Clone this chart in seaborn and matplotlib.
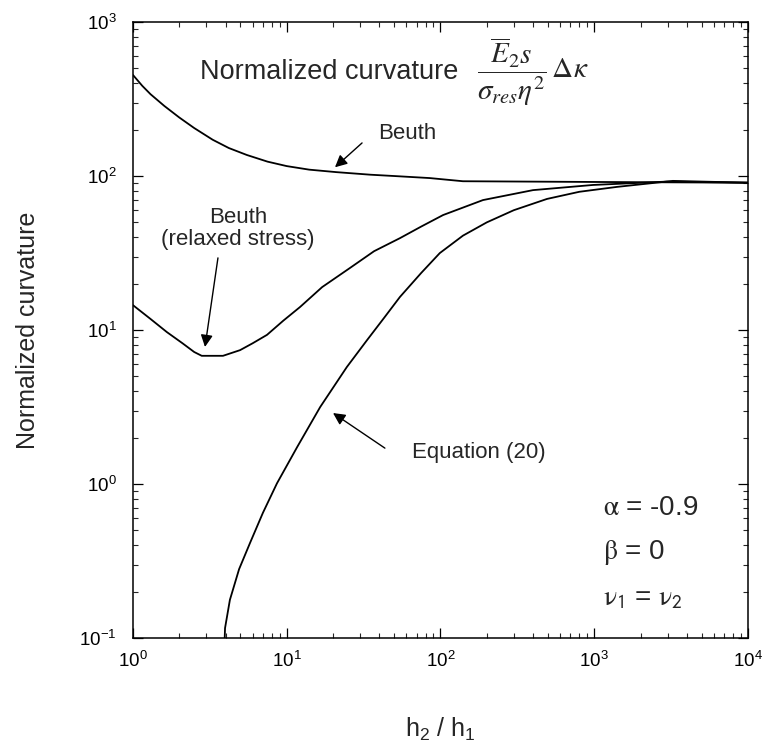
import numpy as np
import pandas as pd
import seaborn as sns
from matplotlib import pyplot as plt

# * curve data (h2/h1 vs normalized curvature)
beuth_x = [1, 1.15, 1.3, 1.6, 2, 2.5, 3.3, 4.2, 5.5, 7.5, 10, 14, 21, 35, 50, 85, 140, 1000, 10000]
beuth_y = [453, 385, 340, 285, 240, 205, 172, 152, 137, 124, 116, 110, 106, 102, 100, 97, 92.5, 91.5, 90.5]

relaxed_x = [1, 1.3, 1.66, 2.1, 2.5, 2.8, 3.85, 4.97, 6, 7.44, 9.5, 12.2, 17, 25.8, 37, 54.5,
             75, 104, 189, 400, 982, 2970, 10000]
relaxed_y = [14.5, 11.8, 9.7, 8.2, 7.2, 6.8, 6.8, 7.4, 8.2, 9.3, 11.5, 14.1, 19, 25.3, 32.5, 39.5,
             47, 55.8, 69.8, 81, 87.5, 92, 90.5]

eq20_x = [3.95, 3.97, 4.27, 4.9, 5.77, 7, 8.64, 11.7, 16.5, 24.6, 33.3, 43, 54.5, 75, 99, 140,
          200, 300, 493, 800, 1406, 3250, 10000]
eq20_y = [0.1, 0.116, 0.177, 0.28, 0.414, 0.65, 1.01, 1.74, 3.16, 5.75, 8.6, 12, 16.4, 23.5, 31.6, 41,
          50, 60, 71, 79, 85, 93, 90.5]

x_ticks = [1, 10, 100, 1000, 10000]
y_ticks = [0.1, 1, 10, 100, 1000]

df = pd.concat(
    [
        pd.DataFrame({"x": beuth_x, "y": beuth_y, "curve": "Beuth"}),
        pd.DataFrame({"x": relaxed_x, "y": relaxed_y, "curve": "Beuth (relaxed stress)"}),
        pd.DataFrame({"x": eq20_x, "y": eq20_y, "curve": "Equation (20)"}),
    ],
    ignore_index=True,
)

# * theme and fonts
sns.set_style("white")
plt.rcParams["font.family"] = ["Liberation Sans", "DejaVu Sans"]
plt.rcParams["mathtext.fontset"] = "custom"
plt.rcParams["mathtext.rm"] = "Liberation Sans"
plt.rcParams["mathtext.it"] = "Liberation Sans:italic"
plt.rcParams["mathtext.bf"] = "Liberation Sans:bold"
plt.rcParams["axes.unicode_minus"] = False

fig = plt.figure(figsize=(7.7, 7.52), dpi=100)
ax = fig.add_axes([0.1727, 0.1516, 0.7987, 0.8191])

for name, grp in df.groupby("curve", sort=False):
    sns.lineplot(data=grp, x="x", y="y", color="black", linewidth=1.3,
                 estimator=None, sort=False, legend=False, ax=ax)

ax.set_xscale("log")
ax.set_yscale("log")
ax.set_xlim(x_ticks[0], x_ticks[-1])
ax.set_ylim(y_ticks[0], y_ticks[-1])
ax.set_xticks(x_ticks)
ax.set_yticks(y_ticks)
ax.set_xlabel("")
ax.set_ylabel("")

# * ticks inward on all sides
ax.tick_params(which="major", direction="in", length=7, width=0.9,
               left=True, bottom=True, top=True, right=True,
               labelsize=13.5, pad=9, colors="black")
ax.tick_params(which="minor", direction="in", length=3.5, width=0.8,
               left=True, bottom=True, top=True, right=True)
ax.tick_params(axis="y", which="major", pad=12)
for sp in ax.spines.values():
    sp.set_linewidth(1.1)
    sp.set_color("black")

# * headline text with formula
ax.text(2.73, 473, "Normalized curvature", fontsize=19.5, ha="left", va="center")
ax.text(172, 480, r"$\dfrac{\overline{E}_2 s}{\sigma_{res}\eta^2}\,\Delta\kappa$",
        fontsize=21, ha="left", va="center", math_fontfamily="stix")

# * annotations
arrow = dict(arrowstyle="-|>", color="black", lw=1.0, mutation_scale=18, shrinkA=0, shrinkB=0)
ax.text(60.5, 190, "Beuth", fontsize=16, ha="center", va="center")
ax.annotate("", xy=(20.6, 114), xytext=(30.9, 164), arrowprops=arrow)

ax.text(4.82, 45.9, "Beuth\n(relaxed stress)", fontsize=16, ha="center", va="center",
        linespacing=1.05)
ax.annotate("", xy=(2.94, 7.76), xytext=(3.57, 29.4), arrowprops=arrow)

ax.text(65.3, 1.59, "Equation (20)", fontsize=16, ha="left", va="center")
ax.annotate("", xy=(20.0, 2.89), xytext=(43.5, 1.71), arrowprops=arrow)

# * parameters
ax.text(1140, 0.698, r"$\mathrm{\alpha}$ = -0.9", fontsize=20, ha="left", va="center",
        math_fontfamily="stix")
ax.text(1140, 0.361, r"$\mathrm{\beta}$ = 0", fontsize=20, ha="left", va="center",
        math_fontfamily="stix")
ax.text(1140, 0.182, r"$\mathrm{\nu}_{\mathsf{1}}$ = $\mathrm{\nu}_{\mathsf{2}}$", fontsize=20,
        ha="left", va="center", math_fontfamily="stix")

# * axis labels
fig.text(28 / 770, 1 - 330 / 752, "Normalized curvature", fontsize=18, rotation=90,
         ha="center", va="center")
fig.text(440 / 770, 1 - 729 / 752, r"h$_2$ / h$_1$", fontsize=18, ha="center", va="center")

fig.savefig("out.png", dpi=100, facecolor="white")
plt.close()
